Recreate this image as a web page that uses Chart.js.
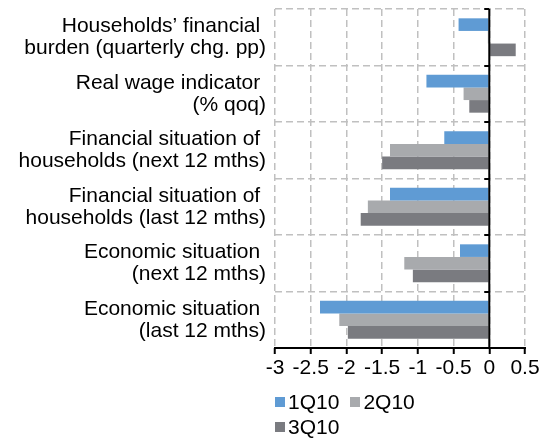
<!DOCTYPE html>
<html>
<head>
<meta charset="utf-8">
<script src="https://cdn.jsdelivr.net/npm/chart.js@4/dist/chart.umd.min.js"></script>
<style>
  html, body { margin: 0; padding: 0; background: #fff; }
  #wrap { position: relative; width: 551px; height: 440px; }
  #legend { position: absolute; left: 275px; top: 389px; width: 170px; display: flex; flex-wrap: wrap;
            font-family: 'Liberation Sans', Arial, sans-serif; font-size: 21px; color: #000; }
  .item { display: flex; align-items: center; height: 25px; margin-right: 11px; white-space: nowrap; }
  .box { width: 10px; height: 10px; margin-right: 3px; }
</style>
</head>
<body>
<div id="wrap">
  <canvas id="c" width="551" height="440"></canvas>
  <div id="legend"></div>
</div>
<script>
const categories = [
  ["Households\u2019 financial ", "burden (quarterly chg. pp)"],
  ["Real wage indicator ", "(% qoq)"],
  ["Financial situation of ", "households (next 12 mths)"],
  ["Financial situation of ", "households (last 12 mths)"],
  ["Economic situation ", "(next 12 mths)"],
  ["Economic situation ", "(last 12 mths)"]
];
const seriesNames = ["1Q10", "2Q10", "3Q10"];
const q1_10 = [-0.43, -0.88, -0.63, -1.39, -0.41, -2.37];
const q2_10 = [-0.02, -0.36, -1.39, -1.70, -1.19, -2.10];
const q3_10 = [0.37, -0.28, -1.50, -1.80, -1.07, -1.98];
const tickLabels = ["-3", "-2.5", "-2", "-1.5", "-1", "-0.5", "0", "0.5"];
const colors = ["#5f9bd4", "#a8aaad", "#7a7b80"];

Chart.defaults.font.family = "'Liberation Sans', Arial, sans-serif";
Chart.defaults.font.size = 21;
Chart.defaults.color = "#000";

const axisPlugin = {
  id: 'axisDeco',
  afterDatasetsDraw(chart) {
    const ctx = chart.ctx, x = chart.scales.x, y = chart.scales.y, a = chart.chartArea;
    const x0 = x.getPixelForValue(0);
    ctx.save();
    ctx.strokeStyle = '#000';
    ctx.lineWidth = 2;
    ctx.beginPath();
    ctx.moveTo(x0, a.top);
    ctx.lineTo(x0, a.bottom);
    ctx.stroke();
    for (let i = 0; i <= categories.length; i++) {
      const yy = Math.round(y.getPixelForValue(i - 0.5));
      ctx.beginPath();
      ctx.moveTo(x0 - 5, yy);
      ctx.lineTo(x0, yy);
      ctx.stroke();
    }
    ctx.beginPath();
    ctx.moveTo(a.left - 1, a.bottom);
    ctx.lineTo(a.right + 1, a.bottom);
    ctx.stroke();
    ctx.restore();
  }
};

const chart = new Chart(document.getElementById('c'), {
  type: 'bar',
  data: {
    labels: categories,
    datasets: [
      { label: seriesNames[0], data: q1_10, backgroundColor: colors[0] },
      { label: seriesNames[1], data: q2_10, backgroundColor: colors[1] },
      { label: seriesNames[2], data: q3_10, backgroundColor: colors[2] }
    ]
  },
  options: {
    indexAxis: 'y',
    responsive: false,
    animation: false,
    categoryPercentage: 0.67,
    barPercentage: 1.0,
    layout: { padding: { left: 0, right: 26, top: 9, bottom: 0 } },
    plugins: { legend: { display: false }, tooltip: { enabled: false } },
    scales: {
      x: {
        min: -3, max: 0.5,
        ticks: { stepSize: 0.5, padding: 2, callback: (v, i) => tickLabels[i], maxRotation: 0, autoSkip: false },
        grid: { color: '#c0c0c0', lineWidth: 1.5, tickColor: '#000', tickWidth: 2, tickLength: 6, tickBorderDash: [] },
        border: { display: false, dash: [7, 4] },
        afterFit(s) { s.height = 92; s.paddingLeft = 0; s.paddingRight = 0; }
      },
      y: {
        ticks: { padding: 9, font: { lineHeight: 1.05 }, autoSkip: false },
        grid: { offset: true, color: '#c0c0c0', lineWidth: 1.5, drawTicks: false },
        border: { display: false, dash: [7, 4] },
        afterFit(s) { s.width = 275; s.paddingTop = 0; s.paddingBottom = 0; }
      }
    }
  },
  plugins: [axisPlugin]
});

const leg = document.getElementById('legend');
chart.data.datasets.forEach(ds => {
  const it = document.createElement('div');
  it.className = 'item';
  const b = document.createElement('span');
  b.className = 'box';
  b.style.background = ds.backgroundColor;
  const t = document.createElement('span');
  t.textContent = ds.label;
  it.appendChild(b); it.appendChild(t);
  leg.appendChild(it);
});
</script>
</body>
</html>
